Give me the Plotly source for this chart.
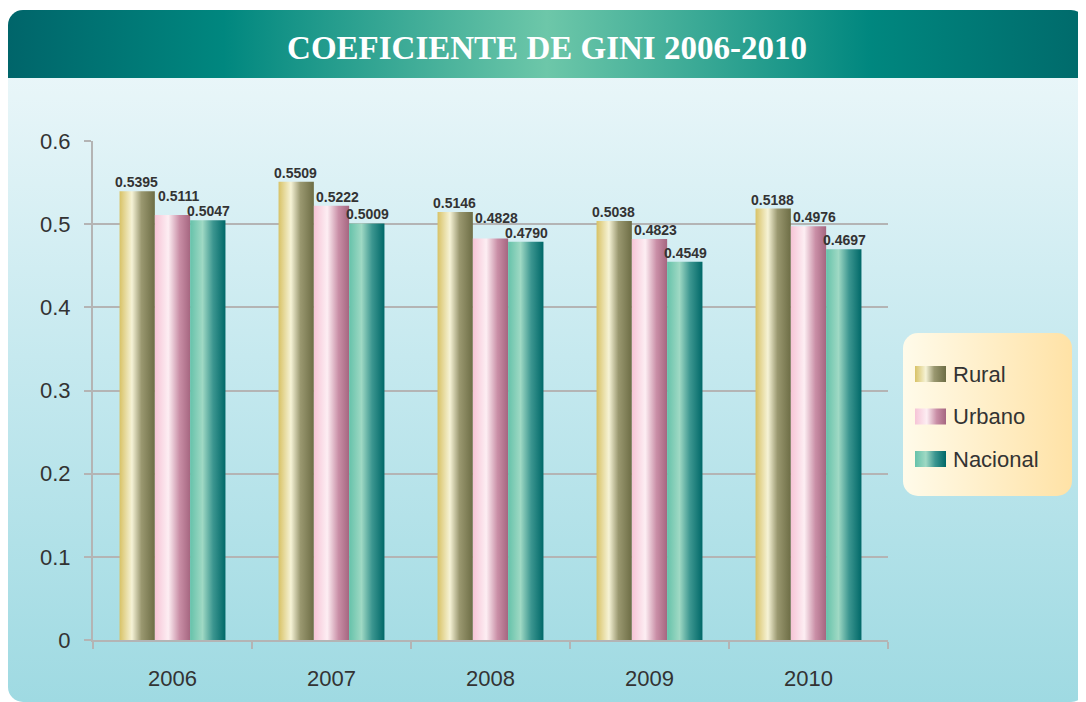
import base64
import plotly.graph_objects as go

years = ["2006", "2007", "2008", "2009", "2010"]
rural = [0.5395, 0.5509, 0.5146, 0.5038, 0.5188]
urbano = [0.5111, 0.5222, 0.4828, 0.4823, 0.4976]
nacional = [0.5047, 0.5009, 0.4790, 0.4549, 0.4697]
series_names = ["Rural", "Urbano", "Nacional"]

# gradient stops (left -> right) for each series
grads = {
    "Rural": [(0, "#d8c266"), (0.35, "#f6f3d6"), (0.62, "#9a9870"), (1, "#6d6d45")],
    "Urbano": [(0, "#f6c4d6"), (0.38, "#fdeef3"), (0.7, "#c98ea6"), (1, "#a56680")],
    "Nacional": [(0, "#66c2aa"), (0.35, "#9fd9c4"), (0.65, "#3c9690"), (1, "#006868")],
}

# page body has an 8px margin, so the figure is 8px smaller than the window
W, H = 1078, 694
L, R, T, B = 85, 880, 133, 632
pw, ph = R - L, B - T
ppu = ph / 0.6  # pixels per y unit

bw = 0.222
offs = [-bw, 0.0, bw]
lab_dx = [-0.006, 0.035, 0.006]


def svg_grad(gid, stops, vertical=False):
    xy = 'x1="0" y1="0" x2="0" y2="1"' if vertical else 'x1="0" y1="0" x2="1" y2="0"'
    s = "".join(f'<stop offset="{o}" stop-color="{c}"/>' for o, c in stops)
    return f'<linearGradient id="{gid}" {xy}>{s}</linearGradient>'


# background: panel, header band, legend box, legend swatches
defs = svg_grad("body", [(0, "#f1f9fb"), (0.5, "#c6e9ef"), (1, "#9fdae2")], True)
defs += svg_grad("head", [(0, "#00656a"), (0.2, "#00877f"), (0.5, "#6dc7a9"),
                          (0.8, "#00877f"), (1, "#006a6b")])
defs += svg_grad("leg", [(0, "#fffbea"), (1, "#ffe2a6")])
for n in series_names:
    defs += svg_grad("g" + n, grads[n])
sw = "".join(
    f'<rect x="907" y="{358 + 42.5 * i}" width="31" height="16" fill="url(#g{n})"/>'
    for i, n in enumerate(series_names))
svg = (
    f'<svg xmlns="http://www.w3.org/2000/svg" width="{W}" height="{H}" viewBox="0 0 {W} {H}">'
    f'<defs>{defs}<clipPath id="c"><rect x="0" y="2" width="{W}" height="{H - 2}" rx="15"/></clipPath></defs>'
    f'<g clip-path="url(#c)"><rect x="0" y="2" width="{W}" height="{H - 2}" fill="url(#body)"/>'
    f'<rect x="0" y="2" width="{W}" height="68" fill="url(#head)"/></g>'
    f'<rect x="895" y="325" width="169" height="163" rx="15" fill="url(#leg)"/>{sw}</svg>'
)
bg_src = "data:image/svg+xml;base64," + base64.b64encode(svg.encode()).decode()

fig = go.Figure()

lab_font = dict(family="Liberation Sans, Arial, sans-serif", size=14, color="#333333", weight="bold")
lab_h = 15
for j in range(len(years)):
    vals = [rural[j], urbano[j], nacional[j]]
    # label bottoms in px; lift the middle label when it would hit the right one
    bottoms = [v * ppu + 3 for v in vals]
    if bottoms[1] < bottoms[2] + lab_h and bottoms[1] + lab_h > bottoms[2]:
        bottoms[1] = bottoms[2] + lab_h
    for k, name in enumerate(series_names):
        v = vals[k]
        x0 = j + offs[k] - bw / 2
        x1 = j + offs[k] + bw / 2
        cs = [[o, c] for o, c in grads[name]]
        fig.add_trace(go.Scatter(
            x=[x0, x0, x1, x1, x0], y=[0, v, v, 0, 0],
            mode="lines", fill="toself", line=dict(width=0),
            fillgradient=dict(type="horizontal", colorscale=cs),
            name=name, legendgroup=name, showlegend=False,
            hoveron="fills", text=f"{name} {years[j]}: {v:.4f}", hoverinfo="text",
        ))
        fig.add_annotation(
            x=j + offs[k] + lab_dx[k], y=v, text=f"{v:.4f}", showarrow=False,
            yanchor="bottom", yshift=bottoms[k] - v * ppu - 3, borderpad=0,
            font=lab_font,
        )

# legend text
for i, n in enumerate(series_names):
    fig.add_annotation(
        x=(943 - L) / pw, y=(B - (366 + 42.5 * i)) / ph, xref="paper", yref="paper",
        text=n, showarrow=False, xanchor="left", yanchor="middle",
        font=dict(family="Liberation Sans, Arial, sans-serif", size=22, color="#333333"),
    )

fig.add_layout_image(
    source=bg_src, xref="paper", yref="paper",
    x=-L / pw, y=1 + T / ph, sizex=W / pw, sizey=H / ph,
    xanchor="left", yanchor="top", sizing="stretch", layer="below",
)

fig.update_layout(
    width=W, height=H,
    margin=dict(l=L, r=W - R, t=T, b=H - B),
    paper_bgcolor="white", plot_bgcolor="rgba(0,0,0,0)",
    showlegend=False,
    title=dict(text="<b>COEFICIENTE DE GINI 2006-2010</b>", x=539 / W, xanchor="center",
               y=1 - 39 / H, yanchor="middle",
               font=dict(family="Liberation Serif, Times New Roman, serif", size=33, color="white")),
    font=dict(family="Liberation Sans, Arial, sans-serif", size=22, color="#333333"),
)

fig.update_xaxes(
    range=[-0.5, 4.5], tickvals=list(range(len(years))), ticktext=years,
    ticks="", showgrid=False, zeroline=False,
    showline=True, linecolor="#b4b4b4", linewidth=2,
    ticklabelstandoff=18,
    minor=dict(tickvals=[i - 0.5 for i in range(len(years) + 1)], ticks="outside",
               ticklen=7, tickcolor="#b4b4b4", tickwidth=2, showgrid=False),
)
fig.update_yaxes(
    range=[0, 0.6], dtick=0.1, tickformat=".1~f",
    showgrid=True, gridcolor="#b4b4b4", gridwidth=2, zeroline=False,
    showline=True, linecolor="#b4b4b4", linewidth=2,
    ticks="outside", ticklen=7, tickcolor="#b4b4b4", tickwidth=2,
    ticklabelstandoff=9,
)

fig.write_html("out.html")
